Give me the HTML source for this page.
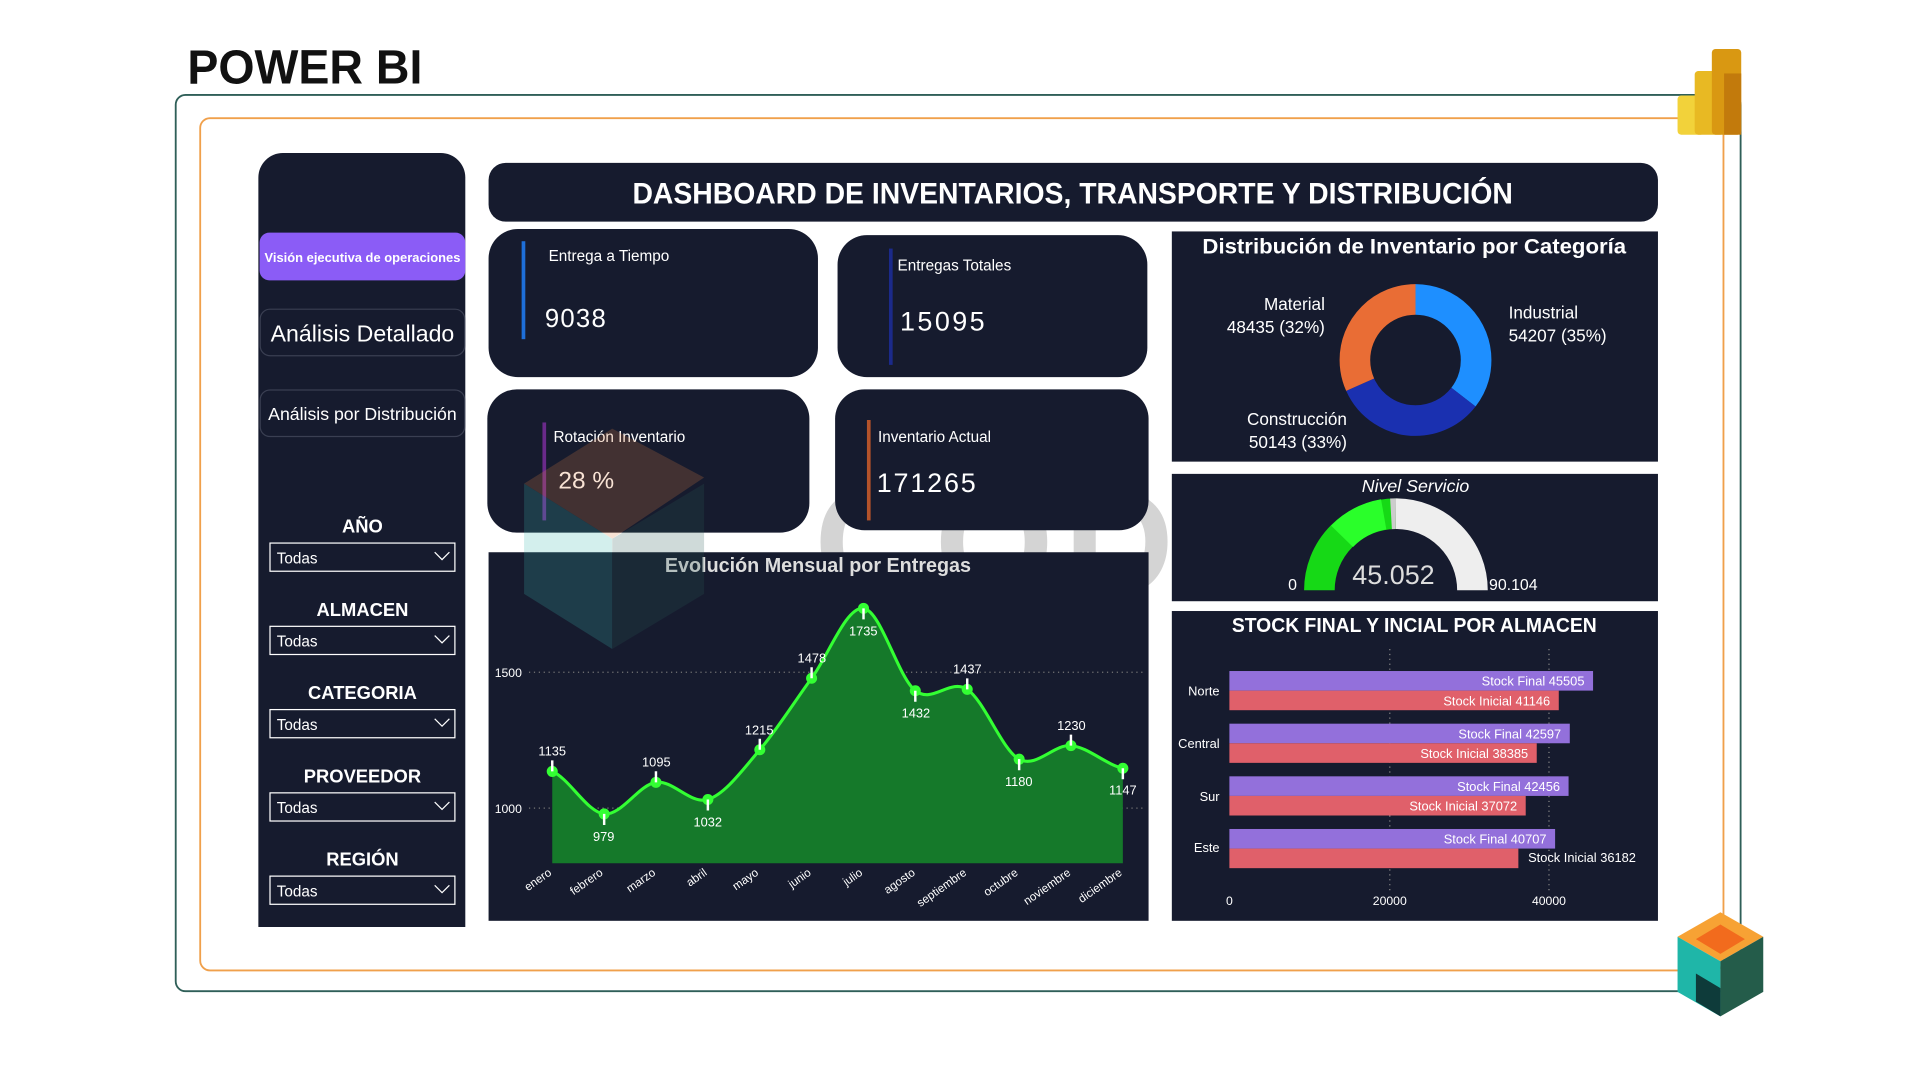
<!DOCTYPE html>
<html><head><meta charset="utf-8"><style>
html,body{margin:0;padding:0;background:#fff;overflow:hidden}
svg{display:block}
text{font-family:"Liberation Sans",sans-serif}
</style></head><body>
<svg width="1920" height="1080" viewBox="0 0 1568 882" xmlns="http://www.w3.org/2000/svg">
<rect width="1568" height="882" fill="#fff"/>
<text x="153" y="68" font-size="39" font-weight="bold" fill="#111" textLength="192" lengthAdjust="spacingAndGlyphs">POWER BI</text>
<rect x="143.5" y="77.5" width="1278" height="732" rx="8" fill="none" stroke="#2f5f58" stroke-width="1.5"/>
<rect x="163.5" y="96.5" width="1244" height="696" rx="8" fill="none" stroke="#f0a04b" stroke-width="1.5"/>
<text x="665" y="486" font-size="125" font-weight="bold" fill="#d4d4d4" letter-spacing="8">CODING</text>
<rect x="1370" y="78" width="22" height="32" rx="3" fill="#f2d23a"/>
<rect x="1384" y="58" width="24" height="52" rx="3" fill="#e8b923"/>
<rect x="1398" y="40" width="24" height="70" rx="3" fill="#d99812"/>
<rect x="1408" y="60" width="14" height="50" fill="#c27a0c"/>
<polygon points="1405,745 1440,765 1405,785 1370,765" fill="#f7a234"/>
<polygon points="1405,755 1425,767 1405,779 1385,767" fill="#f26b1d"/>
<polygon points="1370,765 1405,785 1405,830 1370,810" fill="#1fb6a8"/>
<polygon points="1405,785 1440,765 1440,810 1405,830" fill="#245c4a"/>
<polygon points="1385,795 1405,807 1405,830 1385,818" fill="#0e3b3a"/>
<path d="M211,145 a20,20 0 0 1 20,-20 h129 a20,20 0 0 1 20,20 V757 H211 Z" fill="#161b2e"/>
<rect x="212" y="190" width="168" height="39" rx="8" fill="#8b5cf6"/>
<text x="296" y="214" font-size="10.5" font-weight="bold" fill="#fff" text-anchor="middle" textLength="160" lengthAdjust="spacingAndGlyphs">Visión ejecutiva de operaciones</text>
<rect x="212.5" y="252.5" width="167" height="38" rx="8" fill="none" stroke="#3a3f52"/>
<text x="296" y="279" font-size="19" fill="#fff" text-anchor="middle" textLength="150" lengthAdjust="spacingAndGlyphs">Análisis Detallado</text>
<rect x="212.5" y="318.5" width="167" height="38" rx="8" fill="none" stroke="#3a3f52"/>
<text x="296" y="343" font-size="14.5" fill="#fff" text-anchor="middle" textLength="154" lengthAdjust="spacingAndGlyphs">Análisis por Distribución</text>
<g font-weight="bold" font-size="15" fill="#fff" text-anchor="middle">
<text x="296" y="435">AÑO</text><text x="296" y="503">ALMACEN</text><text x="296" y="571">CATEGORIA</text><text x="296" y="639">PROVEEDOR</text><text x="296" y="707">REGIÓN</text></g>
<g fill="none" stroke="#fff" stroke-width="1">
<rect x="220.5" y="443.5" width="151" height="23"/><rect x="220.5" y="511.5" width="151" height="23"/><rect x="220.5" y="579.5" width="151" height="23"/><rect x="220.5" y="647.5" width="151" height="23"/><rect x="220.5" y="715.5" width="151" height="23"/>
<path d="M355,451 l6,6 l6,-6 M355,519 l6,6 l6,-6 M355,587 l6,6 l6,-6 M355,655 l6,6 l6,-6 M355,723 l6,6 l6,-6"/></g>
<g font-size="12.5" fill="#fff"><text x="226" y="460">Todas</text><text x="226" y="528">Todas</text><text x="226" y="596">Todas</text><text x="226" y="664">Todas</text><text x="226" y="732">Todas</text></g>
<rect x="399" y="133" width="955" height="48" rx="14" fill="#161b2e"/>
<text x="876" y="166" font-size="24" font-weight="bold" fill="#fff" text-anchor="middle" textLength="719" lengthAdjust="spacingAndGlyphs">DASHBOARD DE INVENTARIOS, TRANSPORTE Y DISTRIBUCIÓN</text>
<rect x="399" y="187" width="269" height="121" rx="24" fill="#161b2e"/>
<rect x="426" y="197" width="3" height="80" fill="#1e6fd9"/>
<text x="448" y="213" font-size="12.5" fill="#fff">Entrega a Tiempo</text>
<text x="445" y="267" font-size="21" fill="#fff" letter-spacing="1">9038</text>
<rect x="684" y="192" width="253" height="116" rx="24" fill="#161b2e"/>
<rect x="726" y="203" width="3" height="95" fill="#1b2a8a"/>
<text x="733" y="221" font-size="12.5" fill="#fff">Entregas Totales</text>
<text x="735" y="270" font-size="22" fill="#fff" letter-spacing="2">15095</text>
<rect x="398" y="318" width="263" height="117" rx="24" fill="#161b2e"/>
<rect x="443" y="345" width="3" height="80" fill="#6a2a8a"/>
<text x="452" y="361" font-size="12.5" fill="#fff">Rotación Inventario</text>
<text x="456" y="399" font-size="20" fill="#fff">28 %</text>
<rect x="682" y="318" width="256" height="115" rx="24" fill="#161b2e"/>
<rect x="708" y="343" width="3" height="82" fill="#b4532a"/>
<text x="717" y="361" font-size="12.5" fill="#fff">Inventario Actual</text>
<text x="716" y="402" font-size="22" fill="#fff" letter-spacing="1.5">171265</text>
<rect x="957" y="189" width="397" height="188" fill="#161b2e"/>
<text x="1155" y="207" font-size="17.5" font-weight="bold" fill="#fff" text-anchor="middle" textLength="346" lengthAdjust="spacingAndGlyphs">Distribución de Inventario por Categoría</text>
<g transform="rotate(-90 1156 294)" fill="none" stroke-width="25">
<circle cx="1156" cy="294" r="49.5" stroke="#1e8fff" stroke-dasharray="110.3 400"/>
<circle cx="1156" cy="294" r="49.5" stroke="#1a30b0" stroke-dasharray="0 110.3 102.1 400"/>
<circle cx="1156" cy="294" r="49.5" stroke="#e96d35" stroke-dasharray="0 212.4 98.6 400"/>
</g>
<g font-size="14" fill="#fff">
<text x="1082" y="253" text-anchor="end">Material</text><text x="1082" y="272" text-anchor="end">48435 (32%)</text>
<text x="1232" y="260">Industrial</text><text x="1232" y="279">54207 (35%)</text>
<text x="1100" y="347" text-anchor="end">Construcción</text><text x="1100" y="366" text-anchor="end">50143 (33%)</text></g>
<rect x="957" y="387" width="397" height="104" fill="#161b2e"/>
<text x="1156" y="402" font-size="14.5" font-style="italic" fill="#fff" text-anchor="middle">Nivel Servicio</text>
<path d="M1140,419.5 A62.5,62.5 0 0 1 1202.5,482" fill="none" stroke="#eeeeee" stroke-width="25"/>
<path d="M1077.5,482 A62.5,62.5 0 0 1 1140,419.5" fill="none" stroke="#16d916" stroke-width="25"/>
<path d="M1096,438 A62.5,62.5 0 0 1 1130,420" fill="none" stroke="#2aff2a" stroke-width="25"/>
<path d="M1136,419.6 A62.5,62.5 0 0 1 1140,419.5" fill="none" stroke="#ccc" stroke-width="25"/>
<text x="1052" y="482" font-size="13" fill="#fff">0</text>
<text x="1138" y="477" font-size="22" fill="#ddd" text-anchor="middle">45.052</text>
<text x="1216" y="482" font-size="13" fill="#fff">90.104</text>
<rect x="957" y="499" width="397" height="253" fill="#161b2e"/>
<text x="1155" y="516" font-size="16.5" font-weight="bold" fill="#fff" text-anchor="middle" textLength="298" lengthAdjust="spacingAndGlyphs">STOCK FINAL Y INCIAL POR ALMACEN</text>
<g stroke="#888" stroke-dasharray="1 3"><line x1="1135" y1="530" x2="1135" y2="728"/><line x1="1265" y1="530" x2="1265" y2="728"/></g>
<g fill="#9370db"><rect x="1004" y="548" width="297" height="16"/><rect x="1004" y="591" width="278" height="16"/><rect x="1004" y="634" width="277" height="16"/><rect x="1004" y="677" width="266" height="16"/></g>
<g fill="#e0606a"><rect x="1004" y="564" width="269" height="16"/><rect x="1004" y="607" width="251" height="16"/><rect x="1004" y="650" width="242" height="16"/><rect x="1004" y="693" width="236" height="16"/></g>
<g font-size="10.5" fill="#fff" text-anchor="end">
<text x="1294" y="560">Stock Final 45505</text><text x="1266" y="576">Stock Inicial 41146</text>
<text x="1275" y="603">Stock Final 42597</text><text x="1248" y="619">Stock Inicial 38385</text>
<text x="1274" y="646">Stock Final 42456</text><text x="1239" y="662">Stock Inicial 37072</text>
<text x="1263" y="689">Stock Final 40707</text><text x="1336" y="704">Stock Inicial 36182</text>
<text x="996" y="568">Norte</text><text x="996" y="611">Central</text><text x="996" y="654">Sur</text><text x="996" y="696">Este</text></g>
<g font-size="10" fill="#fff" text-anchor="middle"><text x="1004" y="739">0</text><text x="1135" y="739">20000</text><text x="1265" y="739">40000</text></g>
<rect x="399" y="451" width="539" height="301" fill="#161b2e"/>
<text x="668" y="467" font-size="16.5" font-weight="bold" fill="#ddd" text-anchor="middle" textLength="250" lengthAdjust="spacingAndGlyphs">Evolución Mensual por Entregas</text>
<g stroke="#777" stroke-dasharray="1 3"><line x1="432" y1="549" x2="935" y2="549"/><line x1="432" y1="660" x2="935" y2="660"/></g>
<g font-size="10" fill="#fff"><text x="404" y="553">1500</text><text x="404" y="664">1000</text></g>
<path d="M451,630 C465.1,635.8 479.3,663.2 493.4,664.7 C507.5,666.2 521.6,640.9 535.7,638.9 C549.8,636.9 564,657.3 578.1,652.9 C592.2,648.5 606.4,628.8 620.5,612.3 C634.6,595.8 648.7,573.2 662.8,553.9 C676.9,534.7 691.1,495.1 705.2,496.8 C719.3,498.5 733.4,553.1 747.5,564.1 C761.6,575.1 775.8,553.7 789.9,563 C804,572.3 818.2,612.4 832.3,620 C846.4,627.6 860.5,607.7 874.6,608.9 C888.7,610.1 902.9,624.3 917,627.4 L917,705 L451,705 Z" fill="#15792a"/>
<path d="M451,630 C465.1,635.8 479.3,663.2 493.4,664.7 C507.5,666.2 521.6,640.9 535.7,638.9 C549.8,636.9 564,657.3 578.1,652.9 C592.2,648.5 606.4,628.8 620.5,612.3 C634.6,595.8 648.7,573.2 662.8,553.9 C676.9,534.7 691.1,495.1 705.2,496.8 C719.3,498.5 733.4,553.1 747.5,564.1 C761.6,575.1 775.8,553.7 789.9,563 C804,572.3 818.2,612.4 832.3,620 C846.4,627.6 860.5,607.7 874.6,608.9 C888.7,610.1 902.9,624.3 917,627.4" fill="none" stroke="#33ff33" stroke-width="2.5"/>
<g fill="#33ff33"><circle cx="451" cy="630" r="4.5"/><circle cx="493.4" cy="664.7" r="4.5"/><circle cx="535.7" cy="638.9" r="4.5"/><circle cx="578.1" cy="652.9" r="4.5"/><circle cx="620.5" cy="612.3" r="4.5"/><circle cx="662.8" cy="553.9" r="4.5"/><circle cx="705.2" cy="496.8" r="4.5"/><circle cx="747.5" cy="564.1" r="4.5"/><circle cx="789.9" cy="563" r="4.5"/><circle cx="832.3" cy="620" r="4.5"/><circle cx="874.6" cy="608.9" r="4.5"/><circle cx="917" cy="627.4" r="4.5"/></g>
<g stroke="#fff" stroke-width="2"><path d="M451,630v-9 M493.4,664.7v9 M535.7,638.9v-9 M578.1,652.9v9 M620.5,612.3v-9 M662.8,553.9v-9 M705.2,496.8v9 M747.5,564.1v9 M789.9,563v-9 M832.3,620v9 M874.6,608.9v-9 M917,627.4v9"/></g>
<g font-size="10.5" fill="#fff" text-anchor="middle">
<text x="451" y="617">1135</text><text x="493" y="687">979</text><text x="536" y="626">1095</text><text x="578" y="675">1032</text><text x="620" y="600">1215</text><text x="663" y="541">1478</text><text x="705" y="519">1735</text><text x="748" y="586">1432</text><text x="790" y="550">1437</text><text x="832" y="642">1180</text><text x="875" y="596">1230</text><text x="917" y="649">1147</text></g>
<g font-size="9.5" fill="#fff" text-anchor="end">
<text transform="translate(451,714) rotate(-35)">enero</text><text transform="translate(493,714) rotate(-35)">febrero</text><text transform="translate(536,714) rotate(-35)">marzo</text><text transform="translate(578,714) rotate(-35)">abril</text><text transform="translate(620,714) rotate(-35)">mayo</text><text transform="translate(663,714) rotate(-35)">junio</text><text transform="translate(705,714) rotate(-35)">julio</text><text transform="translate(748,714) rotate(-35)">agosto</text><text transform="translate(790,714) rotate(-35)">septiembre</text><text transform="translate(832,714) rotate(-35)">octubre</text><text transform="translate(875,714) rotate(-35)">noviembre</text><text transform="translate(917,714) rotate(-35)">diciembre</text></g>
<g opacity="0.22">
<polygon points="500,350 575,390 500,440 428,395" fill="#e08040"/>
<polygon points="428,395 500,440 500,530 428,485" fill="#3ab8b0"/>
<polygon points="500,440 575,395 575,485 500,530" fill="#2a5a55"/>
</g>
</svg>
</body></html>
